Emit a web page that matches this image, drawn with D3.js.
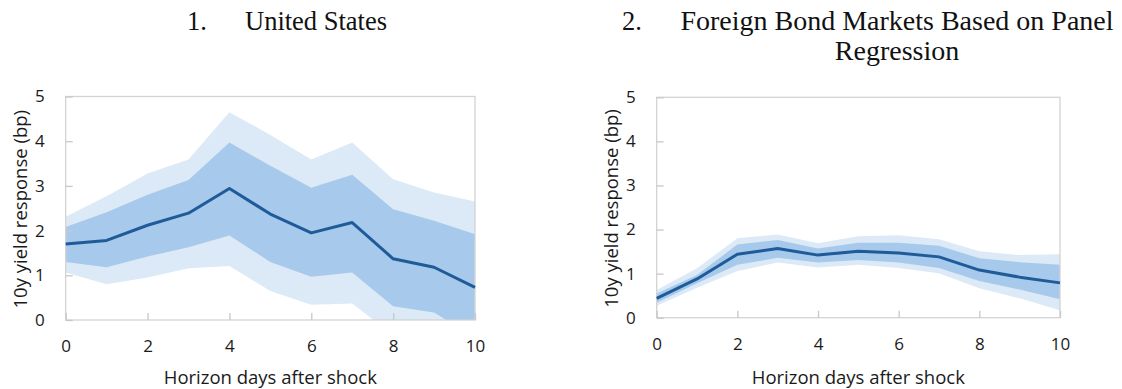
<html>

<head>
  <script src="https://d3js.org/d3.v7.min.js"></script>
  <style>
    body {
      margin: 0;
      background: white;
    }

    .cTitle {
      font-family: "Liberation Serif", "DejaVu Serif", serif;
      font-size: 26.5px;
      fill: #111;
    }

    .axis text {
      font-family: "Open Sans", "Noto Sans", sans-serif;
      font-size: 17px;
      fill: #1a1a1a;
    }

    .axisTitle {
      font-family: "Open Sans", "Noto Sans", sans-serif;
      font-size: 18.5px;
      fill: #1a1a1a;
    }
  </style>
</head>

<body>
  <svg id="vis" width="1122" height="389"></svg>
  <script>
    // horizon days
    const days = [0, 1, 2, 3, 4, 5, 6, 7, 8, 9, 10];
    const yTicks = [0, 1, 2, 3, 4, 5];
    const xTicks = [0, 2, 4, 6, 8, 10];

    // panel 1: United States
    const usMid = [1.70, 1.78, 2.12, 2.39, 2.94, 2.37, 1.95, 2.18, 1.37, 1.18, 0.73];
    const usInnerHi = [2.08, 2.41, 2.80, 3.13, 3.97, 3.45, 2.96, 3.25, 2.48, 2.22, 1.92];
    const usInnerLo = [1.30, 1.18, 1.42, 1.63, 1.89, 1.30, 0.97, 1.06, 0.31, 0.17, -0.40];
    const usOuterHi = [2.31, 2.77, 3.28, 3.59, 4.65, 4.14, 3.59, 3.97, 3.15, 2.85, 2.65];
    const usOuterLo = [1.06, 0.80, 0.95, 1.16, 1.21, 0.65, 0.34, 0.37, -0.34, -0.75, -1.20];

    // panel 2: foreign bond markets (panel regression)
    const fbMid = [0.44, 0.88, 1.44, 1.57, 1.42, 1.51, 1.47, 1.38, 1.08, 0.92, 0.79];
    const fbInnerHi = [0.55, 0.97, 1.66, 1.76, 1.57, 1.70, 1.70, 1.63, 1.35, 1.26, 1.20];
    const fbInnerLo = [0.34, 0.78, 1.20, 1.36, 1.25, 1.31, 1.25, 1.13, 0.83, 0.64, 0.42];
    const fbOuterHi = [0.63, 1.12, 1.80, 1.89, 1.69, 1.85, 1.87, 1.78, 1.51, 1.42, 1.44];
    const fbOuterLo = [0.27, 0.68, 1.06, 1.25, 1.14, 1.20, 1.13, 1.01, 0.67, 0.44, 0.17];

    const svg = d3.select("svg#vis");

    function drawPanel(opts) {
      let m = opts.box;
      let g = svg.append("g");

      let xScale = d3.scaleLinear([0, 10], [m.left, m.right]);
      let yScale = d3.scaleLinear([0, 5], [m.bottom, m.top]);

      let clipId = "clip" + opts.id;
      svg.append("clipPath").attr("id", clipId)
        .append("rect")
        .attr("x", m.left).attr("y", m.top)
        .attr("width", m.right - m.left).attr("height", m.bottom - m.top);

      let bands = g.append("g").attr("clip-path", `url(#${clipId})`);

      let area = (lo, hi) => d3.area()
        .x((d, i) => xScale(days[i]))
        .y0((d, i) => yScale(lo[i]))
        .y1((d, i) => yScale(hi[i]))(days);

      bands.append("path")
        .attr("d", area(opts.outerLo, opts.outerHi))
        .attr("fill", "#dce9f6");
      bands.append("path")
        .attr("d", area(opts.innerLo, opts.innerHi))
        .attr("fill", "#a7c9eb");

      // frame
      g.append("rect")
        .attr("x", m.left).attr("y", m.top)
        .attr("width", m.right - m.left).attr("height", m.bottom - m.top)
        .attr("fill", "none")
        .attr("stroke", "#d3d3d3")
        .attr("stroke-width", 1.3);

      let xAxis = d3.axisBottom(xScale).tickValues(xTicks).tickSize(-7).tickPadding(20)
        .tickFormat(d3.format("d"));
      g.append("g")
        .attr("class", "x axis")
        .attr("transform", `translate(0, ${m.bottom})`)
        .call(xAxis)
        .call(a => a.select(".domain").remove())
        .call(a => a.selectAll("line").attr("stroke", "#c8c8c8").attr("stroke-width", 1.3));

      let yAxis = d3.axisLeft(yScale).tickValues(yTicks).tickSize(-7).tickPadding(21)
        .tickFormat(d3.format("d"));
      g.append("g")
        .attr("class", "y axis")
        .attr("transform", `translate(${m.left}, 0)`)
        .call(yAxis)
        .call(a => a.select(".domain").remove())
        .call(a => a.selectAll("line").attr("stroke", "#c8c8c8").attr("stroke-width", 1.3));

      g.append("path")
        .attr("d", d3.line().x((d, i) => xScale(days[i])).y((d, i) => yScale(opts.mid[i]))(days))
        .attr("fill", "none")
        .attr("stroke", "#1f5b98")
        .attr("stroke-width", 3)
        .attr("stroke-linejoin", "round");

      g.append("text")
        .attr("class", "axisTitle")
        .text("Horizon days after shock")
        .style("text-anchor", "middle")
        .attr("x", (m.left + m.right) / 2)
        .attr("y", 384);

      g.append("text")
        .attr("class", "axisTitle")
        .text("10y yield response (bp)")
        .style("text-anchor", "middle")
        .attr("transform", `translate(${m.left - 39}, ${(m.top + m.bottom) / 2 + 1}) rotate(-90)`);

      // titles
      g.append("text").attr("class", "cTitle")
        .attr("x", opts.numX).attr("y", 30).text(opts.num);
      opts.title.forEach((line, i) => {
        g.append("text").attr("class", "cTitle")
          .attr("x", opts.titleX)
          .attr("y", 30 + i * 30)
          .style("text-anchor", opts.anchor)
          .style("font-size", opts.titleSize)
          .text(line);
      });
    }

    drawPanel({
      id: 1,
      box: { left: 65.7, right: 475, top: 96.5, bottom: 320 },
      mid: usMid, innerHi: usInnerHi, innerLo: usInnerLo, outerHi: usOuterHi, outerLo: usOuterLo,
      num: "1.", numX: 187,
      title: ["United States"], titleX: 245, anchor: "start", titleSize: "26.5px"
    });

    drawPanel({
      id: 2,
      box: { left: 656.7, right: 1060, top: 97.3, bottom: 317.7 },
      mid: fbMid, innerHi: fbInnerHi, innerLo: fbInnerLo, outerHi: fbOuterHi, outerLo: fbOuterLo,
      num: "2.", numX: 622,
      title: ["Foreign Bond Markets Based on Panel", "Regression"], titleX: 897, anchor: "middle",
      titleSize: "28px"
    });
  </script>
</body>

</html>
